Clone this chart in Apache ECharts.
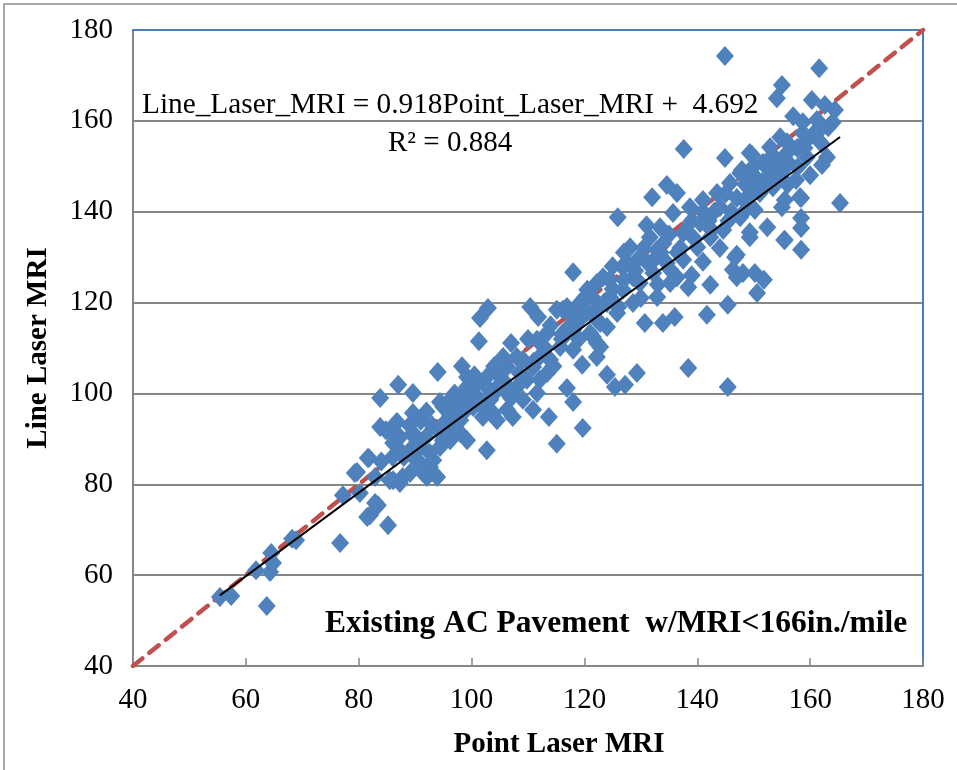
<!DOCTYPE html>
<html>
<head>
<meta charset="utf-8">
<script src="https://cdn.jsdelivr.net/npm/echarts@6/dist/echarts.min.js"></script>
<style>
  html, body { margin: 0; padding: 0; background: #fff; }
  #one { width: 957px; height: 770px; }
</style>
</head>
<body>
<div id="one"></div>
<script>
// Point laser MRI (x) vs Line laser MRI (y)
var pointLaser = [
  55.4, 57.4, 63.7, 61.8, 64.3, 64.8, 64.5, 68.9, 68.2, 76.7, 77.2, 79.3, 80.2, 81.6, 82.0, 83.4, 83.8, 85.2, 83.8, 87.0,
  89.6, 89.6, 84.8, 86.6, 87.3, 86.1, 87.8, 89.6, 90.2, 91.4, 90.9, 92.6, 91.9,
  94.0, 98.3, 85.5, 87.3, 81.8, 79.7, 82.9, 82.9, 81.5, 85.5, 87.3, 89.1, 92.1, 93.9, 90.9, 93.2, 94.4, 96.2, 95.6, 98.0,
  94.4, 96.2, 98.5, 98.0, 99.2, 99.2, 89.1, 90.0, 92.6, 86.1, 86.8,
  102.9, 101.5, 101.3, 110.4, 111.8, 118.0, 116.2, 107.0, 105.6, 119.6, 124.0, 125.4, 127.2, 113.7, 119.7, 115.1, 118.0,
  116.9, 102.7, 110.9, 107.3, 104.5, 96.7,
  120.5, 122.2, 123.3, 115.1, 116.9, 119.2, 122.2, 121.5, 118.0, 113.4, 111.6, 115.7, 118.0, 113.9, 110.9, 109.1, 106.3,
  104.5, 102.7, 101.0, 99.2, 97.9, 96.2, 101.0, 103.3, 106.3, 108.0, 109.8, 112.1, 113.4, 111.6, 109.1, 106.3, 103.8,
  102.0, 100.3, 98.5, 95.6, 94.9, 121.0, 122.8, 124.0, 124.0,
  125.9, 134.6, 132.0, 136.4, 147.0, 146.3, 148.1, 150.2, 150.6, 145.4, 142.3, 141.7, 136.0, 133.9, 130.7, 138.4, 129.3,
  145.4, 138.4, 136.4, 134.6,
  128.1, 131.6, 133.4, 135.7, 138.7, 141.0, 143.5, 145.8, 147.6, 144.6, 142.3, 140.0, 137.5, 135.2, 132.2, 129.8, 126.8,
  124.5, 122.2, 122.8, 125.8, 128.6, 132.9, 135.2, 122.2, 122.2, 148.1, 149.3, 150.6, 148.8, 140.5, 137.5, 132.9, 129.8,
  126.8, 128.6, 124.5,
  137.6, 144.9, 165.3, 158.4, 158.4, 158.4, 155.4, 152.4, 158.4, 162.1, 151.8, 147.0, 146.7, 149.3, 152.9, 155.9, 158.7,
  161.7,
  161.6, 144.9, 155.0, 154.1, 160.3, 162.6, 164.4, 164.0, 158.7, 161.2, 163.2, 154.7, 159.4, 157.7, 155.9, 149.7, 151.6,
  154.1, 147.9, 149.9, 152.9, 155.2, 157.8, 159.4, 153.4, 151.1, 148.8, 155.5, 158.2, 155.0, 150.2, 147.6, 149.3, 155.5,
  139.0, 143.0, 131.0, 127.0, 134.0, 141.0, 144.0, 146.0, 139.0, 131.0, 125.0, 120.0, 118.0, 114.0, 112.0, 108.0, 105.0,
  104.0, 100.0, 97.0, 93.0, 95.0, 91.0, 88.0, 84.0, 110.0, 116.0, 119.0, 127.0, 130.0, 133.0, 137.0, 142.0, 145.0, 150.0,
  153.0, 156.0, 160.0, 163.0, 157.0, 152.0,
  100.5, 103.0, 105.5, 107.0, 108.5, 111.0, 113.0, 114.5, 116.0, 117.5, 119.0, 120.5, 121.5, 123.5, 125.0, 126.0, 127.5,
  129.0, 130.5, 132.0, 133.5, 135.0, 136.5, 138.0, 139.5, 141.0, 142.5, 144.0, 145.5, 147.0, 148.5, 150.0, 151.5, 153.0,
  154.5, 156.0, 157.5, 159.0, 160.5, 162.0, 97.0, 99.0, 92.0, 89.0, 86.0, 94.0, 96.5, 102.0, 104.0, 106.0
];
var lineLaser = [
  55.2, 55.4, 53.2, 61.1, 60.7, 62.7, 64.9, 67.7, 68.0, 67.1, 77.6, 82.5, 78.1, 85.8, 73.2, 75.4, 92.6, 71.0, 99.0, 101.9,
  100.1, 95.7, 91.9, 93.5, 90.4, 80.9, 81.6, 91.3, 85.3, 82.5, 88.2, 83.8, 90.4,
  104.7, 106.0, 91.5, 87.5, 85.8, 82.7, 81.6, 75.9, 72.8, 80.9, 80.3, 82.5, 81.6, 81.6, 84.7, 85.3, 88.2, 89.7, 92.6, 91.3,
  98.1, 95.9, 97.9, 94.1, 89.7, 103.6, 87.5, 90.2, 86.9, 89.1, 93.7,
  118.8, 116.6, 111.5, 119.0, 116.8, 126.7, 118.4, 111.1, 108.0, 106.3, 104.1, 101.4, 101.9, 94.8, 92.4, 88.9, 98.1,
  101.2, 87.5, 96.4, 94.8, 94.1, 91.3,
  122.8, 124.3, 125.6, 118.4, 119.0, 119.9, 116.2, 112.4, 114.0, 113.3, 111.8, 110.2, 109.6, 107.4, 105.8, 107.4, 105.8,
  104.5, 103.6, 102.3, 101.4, 99.2, 98.6, 99.2, 98.6, 100.1, 101.4, 103.0, 103.0, 104.5, 100.1, 98.6, 96.4, 95.7,
  94.8, 97.0, 95.7, 94.1, 89.7, 113.3, 110.2, 114.6, 119.9,
  138.8, 145.9, 143.2, 144.1, 130.5, 127.2, 126.5, 126.5, 122.1, 119.5, 123.9, 117.3, 116.8, 115.5, 115.5, 105.6, 104.5,
  101.4, 123.4, 125.6, 128.7,
  132.2, 134.4, 136.6, 139.7, 141.0, 142.6, 144.1, 146.3, 148.5, 136.0, 134.4, 132.2, 129.4, 127.2, 126.5, 124.3, 122.8,
  121.2, 118.4, 115.5, 117.7, 119.9, 121.2, 124.3, 111.1, 108.0, 139.7, 134.4, 144.8, 141.9, 137.5, 135.3, 131.6, 130.0,
  127.8, 125.6, 125.0,
  153.8, 151.8, 141.9, 131.6, 136.4, 138.6, 133.8, 136.6, 143.0, 150.3, 125.0, 125.6, 130.0, 152.9, 154.2, 155.3, 157.3,
  158.0,
  171.6, 174.3, 167.9, 165.0, 164.6, 163.5, 162.4, 159.7, 159.7, 160.2, 158.6, 156.4, 155.8, 154.0, 152.9, 152.5, 150.7,
  151.4, 149.2, 147.6, 148.5, 149.2, 149.8, 152.0, 145.4, 144.1, 143.2, 142.6, 143.2, 141.0, 140.4, 138.8, 135.5, 133.8,
  138.0, 140.0, 129.0, 131.0, 133.0, 129.0, 132.0, 140.0, 126.0, 137.0, 128.0, 121.0, 117.0, 115.0, 108.0, 108.0, 102.0,
  106.0, 100.0, 96.0, 93.0, 97.0, 94.0, 86.0, 85.0, 112.0, 113.0, 116.0, 125.0, 121.0, 124.0, 132.0, 138.0, 144.0, 150.0,
  152.0, 146.0, 148.0, 152.0, 161.0, 147.0,
  104.0, 101.0, 103.0, 99.0, 104.5, 107.0, 110.0, 106.0, 112.0, 115.0, 112.0, 118.0, 121.0, 120.0, 123.0, 119.0, 129.0,
  127.0, 132.0, 129.0, 131.0, 135.0, 131.0, 136.0, 134.0, 140.0, 136.0, 141.0, 138.0, 143.0, 146.0, 148.0, 146.0, 150.0,
  148.0, 151.0, 147.0, 154.0, 157.0, 155.0, 100.0, 98.0, 96.0, 93.0, 86.0, 92.0, 93.0, 97.0, 100.0, 102.0
];

// axis ticks
var tickValues = [40, 60, 80, 100, 120, 140, 160, 180];

// fitted line as printed on the chart
var slope = 0.918;
var intercept = 4.692;
var trendX = [55.4, 165.3];
var diagonal = [40, 180];

var serif = '"Liberation Serif", "Times New Roman", serif';

var scatterData = [];
for (var i = 0; i < pointLaser.length; i++) {
  scatterData.push([pointLaser[i], lineLaser[i]]);
}
var trendData = trendX.map(function (x) { return [x, slope * x + intercept]; });
var diagData = diagonal.map(function (v) { return [v, v]; });

var myChart = echarts.init(document.getElementById('one'));
var option = {
  backgroundColor: '#fff',
  animation: false,
  grid: { left: 133, right: 34, top: 30, bottom: 104 },
  graphic: [
    { type: 'polyline', shape: { points: [[4, 800], [4, 4], [960, 4]] },
      style: { stroke: '#8c8c8c', lineWidth: 1.5, fill: null }, silent: true },
    { type: 'text', left: 142, top: 91, z: 100,
      style: { text: 'Line_Laser_MRI = 0.918Point_Laser_MRI +  4.692', font: '29.3px ' + serif, fill: '#000' } },
    { type: 'text', left: 388, top: 129, z: 100,
      style: { text: 'R² = 0.884', font: '29px ' + serif, fill: '#000' } },
    { type: 'text', left: 325, top: 608, z: 100,
      style: { text: 'Existing AC Pavement  w/MRI<166in./mile', font: 'bold 31.5px ' + serif, fill: '#000' } }
  ],
  xAxis: [
    {
      type: 'value', min: tickValues[0], max: tickValues[tickValues.length - 1], interval: 20,
      name: 'Point Laser MRI', nameLocation: 'middle', nameGap: 64,
      nameTextStyle: { fontFamily: serif, fontSize: 29, fontWeight: 'bold', color: '#000', padding: [0, 0, 0, 62] },
      axisLine: { show: true, onZero: false, lineStyle: { color: '#868686', width: 2 } },
      axisTick: { show: true, inside: true, length: 8, lineStyle: { color: '#868686', width: 1.5 } },
      axisLabel: { fontFamily: serif, fontSize: 29, color: '#000', margin: 20 },
      splitLine: { show: false }
    },
    {
      type: 'value', position: 'top', min: 40, max: 180,
      axisLine: { show: true, onZero: false, lineStyle: { color: '#4a7ebb', width: 2 } },
      axisTick: { show: false }, axisLabel: { show: false }, splitLine: { show: false }
    }
  ],
  yAxis: [
    {
      type: 'value', min: tickValues[0], max: tickValues[tickValues.length - 1], interval: 20,
      name: 'Line Laser MRI', nameLocation: 'middle', nameGap: 80,
      nameTextStyle: { fontFamily: serif, fontSize: 29, fontWeight: 'bold', color: '#000' },
      axisLine: { show: true, onZero: false, lineStyle: { color: '#868686', width: 2 } },
      axisTick: { show: false },
      axisLabel: { fontFamily: serif, fontSize: 29, color: '#000', margin: 20 },
      splitLine: { show: true, lineStyle: { color: '#868686', width: 2 } }
    },
    {
      type: 'value', position: 'right', min: 40, max: 180,
      axisLine: { show: true, onZero: false, lineStyle: { color: '#4a7ebb', width: 2 } },
      axisTick: { show: false }, axisLabel: { show: false }, splitLine: { show: false }
    }
  ],
  series: [
    {
      name: 'y=x', type: 'line', data: diagData, symbol: 'none', z: 1,
      lineStyle: { color: '#c0504d', width: 4.5, type: [12, 9], cap: 'round' }
    },
    {
      name: 'MRI', type: 'scatter', data: scatterData, symbol: 'diamond', symbolSize: [18, 20], z: 2,
      itemStyle: { color: '#4f81bd', opacity: 1 }
    },
    {
      name: 'trend', type: 'line', data: trendData, symbol: 'none', z: 3,
      lineStyle: { color: '#000', width: 2 }
    }
  ]
};
myChart.setOption(option);
</script>
</body>
</html>
